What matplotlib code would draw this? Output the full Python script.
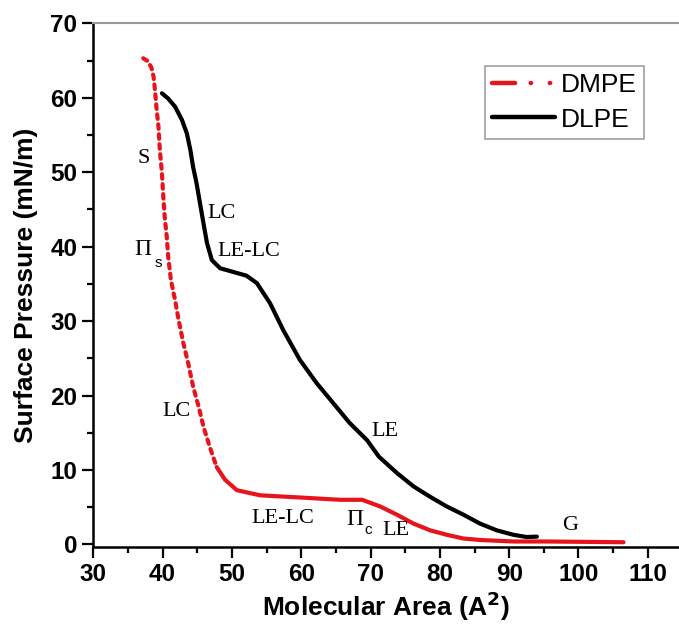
import matplotlib
matplotlib.use("Agg")
import matplotlib.pyplot as plt
from matplotlib.lines import Line2D
from matplotlib.ticker import MultipleLocator

# DMPE isotherm (red)
dmpe_area = [37.2, 37.9, 38.4, 38.7, 38.9, 39.1, 39.4, 39.6, 39.9, 40.1, 40.3, 40.6,
             40.8, 41.2, 41.8, 42.3, 43.0, 43.7, 44.4, 45.2, 45.9, 46.8, 47.8, 49.0,
             50.7, 52.6, 54.1, 60.0, 65.6, 68.8, 71.4, 73.8, 76.2, 78.6, 81.0, 83.4,
             85.8, 90.6, 95.4, 106.5]
dmpe_pressure = [65.3, 64.9, 64.0, 62.8, 61.0, 58.8, 56.1, 53.0, 49.9, 46.7, 44.0, 41.3,
                 38.7, 35.5, 32.8, 30.2, 27.0, 24.3, 21.2, 18.5, 15.8, 13.1, 10.4, 8.7,
                 7.3, 6.9, 6.6, 6.3, 6.0, 6.0, 5.1, 4.0, 2.8, 1.9, 1.3, 0.8,
                 0.6, 0.4, 0.4, 0.3]
# DLPE isotherm (black)
dlpe_area = [39.9, 40.8, 41.8, 42.8, 43.5, 44.0, 44.4, 44.9, 45.4, 45.9, 46.4, 47.1,
             48.3, 50.2, 52.1, 53.6, 55.5, 57.4, 59.8, 62.2, 64.6, 67.0, 69.5, 71.2,
             73.8, 76.2, 78.6, 81.0, 83.4, 85.8, 88.2, 90.6, 92.5, 94.0]
dlpe_pressure = [60.6, 59.9, 58.8, 57.0, 55.2, 53.0, 50.7, 48.5, 45.8, 43.1, 40.5, 38.2,
                 37.1, 36.6, 36.1, 35.1, 32.4, 28.8, 24.8, 21.7, 19.0, 16.3, 14.0, 11.8,
                 9.6, 7.8, 6.4, 5.1, 4.0, 2.8, 1.9, 1.3, 1.0, 1.05]

x_ticks = [30, 40, 50, 60, 70, 80, 90, 100, 110]
y_ticks = [0, 10, 20, 30, 40, 50, 60, 70]

fig = plt.figure(figsize=(6.79, 6.25), dpi=100)
ax = fig.add_axes([93.3 / 679, 78.3 / 625, 585.7 / 679, 523.4 / 625])

red = "#e8141c"
# steep part drawn dotted, flat part solid (as in the reference)
split = 22
ax.plot(dmpe_area[:split + 1], dmpe_pressure[:split + 1], color=red, lw=3.0,
        linestyle=(0, (1.1, 1.3)), dash_capstyle="round", solid_joinstyle="round")
ax.plot(dmpe_area[split:], dmpe_pressure[split:], color=red, lw=3.0,
        solid_capstyle="round", solid_joinstyle="round")
ax.plot(dlpe_area, dlpe_pressure, color="black", lw=3.0, solid_capstyle="round",
        solid_joinstyle="round")

ax.set_xlim(30, 114.5)
ax.set_ylim(-0.3, 70)
ax.set_xticks(x_ticks)
ax.set_yticks(y_ticks)
ax.xaxis.set_minor_locator(MultipleLocator(5))
ax.yaxis.set_minor_locator(MultipleLocator(5))
ax.tick_params(which="major", direction="out", length=8, width=1.6)
ax.tick_params(which="minor", direction="out", length=4.5, width=1.6)
for lab in ax.get_xticklabels() + ax.get_yticklabels():
    lab.set_fontfamily("Liberation Sans")
    lab.set_fontweight("bold")
    lab.set_fontsize(17.5)

ax.spines["left"].set_linewidth(1.8)
ax.spines["bottom"].set_linewidth(1.8)
ax.spines["top"].set_color("#999999")
ax.spines["top"].set_linewidth(1.5)
ax.spines["right"].set_visible(False)

ax.set_xlabel("Molecular Area (A$^\\mathbf{2}$)", fontfamily="Liberation Sans",
              fontweight="bold", fontsize=19, labelpad=3)
ax.set_ylabel("Surface Pressure (mN/m)", fontfamily="Liberation Sans", fontweight="bold",
              fontsize=19, labelpad=9)

serif = dict(fontfamily="Liberation Serif", fontsize=16, ha="center", va="center")
sub = dict(fontfamily="Liberation Sans", fontsize=11, ha="center", va="center")
ax.text(37.2, 51.9, "S", **serif)
ax.text(48.5, 44.5, "LC", **serif)
ax.text(52.4, 39.3, "LE-LC", **serif)
ax.text(37.2, 39.6, "Π", fontfamily="Liberation Serif", fontsize=17, ha="center", va="center")
ax.text(39.4, 37.8, "s", **sub)
ax.text(42.0, 17.8, "LC", **serif)
ax.text(57.3, 3.5, "LE-LC", **serif)
ax.text(67.8, 3.3, "Π", fontfamily="Liberation Serif", fontsize=17, ha="center", va="center")
ax.text(69.7, 1.9, "c", **sub)
ax.text(73.6, 1.9, "LE", **serif)
ax.text(72.1, 15.2, "LE", **serif)
ax.text(98.8, 2.6, "G", **serif)

handles = [Line2D([0], [0], color=red, lw=3.2,
                  linestyle=(0, (5.2, 3.5, 0.1, 4.2, 0.1, 4.2)),
                  dash_capstyle="round"),
           Line2D([0], [0], color="black", lw=3.2, solid_capstyle="round")]
leg = ax.legend(handles, ["DMPE", "DLPE"], loc="upper left",
                bbox_to_anchor=((485 - 93.3) / 585.7, 1 - (66 - 23.3) / 523.4),
                prop={"family": "Liberation Sans", "size": 19}, frameon=True,
                fancybox=False, edgecolor="#888888", handlelength=2.4,
                handletextpad=0.2, borderpad=0.27, labelspacing=0.4, borderaxespad=0)
leg.get_frame().set_linewidth(1.2)

fig.savefig("out.png", dpi=100)
